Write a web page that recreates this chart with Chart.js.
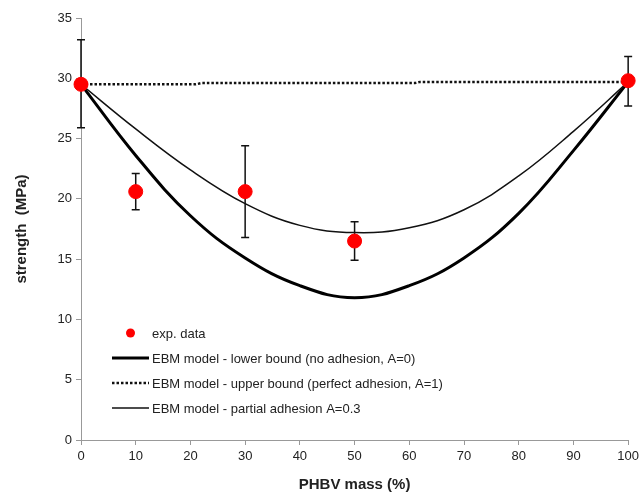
<!DOCTYPE html>
<html lang="en">
<head>
    <meta charset="UTF-8">
    <title>PHBV strength</title>
    <script src="https://cdn.jsdelivr.net/npm/chart.js"></script>
    <style>
        body { margin: 0; background: #fff; }
        #wrap { width: 643px; height: 496px; }
    </style>
</head>
<body>
    <div id="wrap"><canvas id="myChart" width="643" height="496"></canvas></div>

    <script>
        // experimental points + error bars
        const expX = [0, 10, 30, 50, 100];
        const expY = [29.5, 20.6, 20.6, 16.5, 29.8];
        const expHigh = [33.2, 22.1, 24.4, 18.1, 31.8];
        const expLow = [25.9, 19.1, 16.8, 14.9, 27.7];

        // model curves
        const modelX = [0, 10, 20, 30, 40, 50, 60, 70, 80, 90, 100];
        const lowerBound = [29.5, 23.6, 18.6, 15.1, 12.8, 11.8, 12.8, 15.1, 18.8, 24.0, 29.7];
        const partialA03 = [29.5, 25.8, 22.4, 19.6, 17.8, 17.2, 17.6, 19.1, 21.9, 25.6, 29.7];
        const upperX = [0, 21, 22, 61, 62, 100];
        const upperBound = [29.5, 29.5, 29.6, 29.6, 29.7, 29.7];

        const FONT = 'Arial, "Liberation Sans", sans-serif';

        function pts(xs, ys) {
            return xs.map((x, i) => ({x: x, y: ys[i]}));
        }

        // error bars drawn under the red dots
        const errorBars = {
            id: 'errorBars',
            beforeDatasetsDraw(chart) {
                const ctx = chart.ctx;
                const xs = chart.scales.x, ys = chart.scales.y;
                ctx.save();
                ctx.strokeStyle = '#111';
                ctx.lineWidth = 1.5;
                expX.forEach((x, i) => {
                    const px = xs.getPixelForValue(x);
                    const top = ys.getPixelForValue(expHigh[i]);
                    const bot = ys.getPixelForValue(expLow[i]);
                    ctx.beginPath();
                    ctx.moveTo(px, top); ctx.lineTo(px, bot);
                    ctx.moveTo(px - 4, top); ctx.lineTo(px + 4, top);
                    ctx.moveTo(px - 4, bot); ctx.lineTo(px + 4, bot);
                    ctx.stroke();
                });
                ctx.restore();
            }
        };

        // legend inside the plot, lower left
        const innerLegend = {
            id: 'innerLegend',
            afterDraw(chart) {
                const ctx = chart.ctx;
                const a = chart.chartArea;
                const x0 = a.left + 31, x1 = a.left + 68, tx = a.left + 71;
                let y = a.bottom - 107;
                ctx.save();
                ctx.font = '13px ' + FONT;
                ctx.textBaseline = 'middle';
                chart.data.datasets.slice().reverse().forEach(ds => {
                    if (!ds.showLine) {
                        ctx.fillStyle = ds.backgroundColor;
                        ctx.beginPath();
                        ctx.arc((x0 + x1) / 2, y, 4.5, 0, Math.PI * 2);
                        ctx.fill();
                    } else {
                        ctx.strokeStyle = ds.borderColor;
                        ctx.lineWidth = ds.borderWidth;
                        ctx.setLineDash(ds.borderDash || []);
                        ctx.beginPath();
                        ctx.moveTo(x0, y); ctx.lineTo(x1, y);
                        ctx.stroke();
                        ctx.setLineDash([]);
                    }
                    ctx.fillStyle = '#222';
                    ctx.fillText(ds.label, tx, y + 1);
                    y += 25;
                });
                ctx.restore();
            }
        };

        const ctx = document.getElementById('myChart').getContext('2d');

        new Chart(ctx, {
            type: 'scatter',
            data: {
                datasets: [
                    {
                        label: 'EBM model - partial adhesion A=0.3',
                        data: pts(modelX, partialA03),
                        showLine: true,
                        borderColor: '#111',
                        borderWidth: 1.5,
                        pointRadius: 0,
                        tension: 0.4,
                        order: 1
                    },
                    {
                        label: 'EBM model - upper bound (perfect adhesion, A=1)',
                        data: pts(upperX, upperBound),
                        showLine: true,
                        borderColor: '#111',
                        borderWidth: 2.5,
                        borderDash: [2.5, 2],
                        pointRadius: 0,
                        order: 1
                    },
                    {
                        label: 'EBM model - lower bound (no adhesion, A=0)',
                        data: pts(modelX, lowerBound),
                        showLine: true,
                        borderColor: '#000',
                        borderWidth: 3,
                        pointRadius: 0,
                        tension: 0.4,
                        order: 1
                    },
                    {
                        label: 'exp. data',
                        data: pts(expX, expY),
                        showLine: false,
                        backgroundColor: '#f00',
                        borderColor: '#f00',
                        pointRadius: 7,
                        clip: false,
                        order: 0
                    }
                ]
            },
            options: {
                responsive: false,
                animation: false,
                layout: { padding: { top: 18, right: 11, left: 0, bottom: 0 } },
                plugins: {
                    legend: { display: false },
                    tooltip: { enabled: false }
                },
                scales: {
                    x: {
                        min: 0,
                        max: 100,
                        afterFit(s) { s.height = 56; },
                        border: { color: '#999', width: 1 },
                        grid: { drawOnChartArea: false, drawTicks: true, tickLength: 5, color: '#999' },
                        ticks: { stepSize: 10, padding: 4, color: '#222', font: { family: FONT, size: 13 } },
                        title: {
                            display: true,
                            text: 'PHBV mass (%)',
                            color: '#222',
                            padding: { top: 0, bottom: 2 },
                            font: { family: FONT, size: 15, weight: 'bold' }
                        }
                    },
                    y: {
                        min: 0,
                        max: 35,
                        afterFit(s) { s.width = 81; },
                        border: { color: '#999', width: 1 },
                        grid: { drawOnChartArea: false, drawTicks: true, tickLength: 5, color: '#999' },
                        ticks: { stepSize: 5, padding: 4, color: '#222', font: { family: FONT, size: 13 } },
                        title: {
                            display: true,
                            text: 'strength  (MPa)',
                            color: '#222',
                            padding: { top: 13, bottom: 0 },
                            font: { family: FONT, size: 15, weight: 'bold' }
                        }
                    }
                }
            },
            plugins: [errorBars, innerLegend]
        });
    </script>
</body>
</html>
